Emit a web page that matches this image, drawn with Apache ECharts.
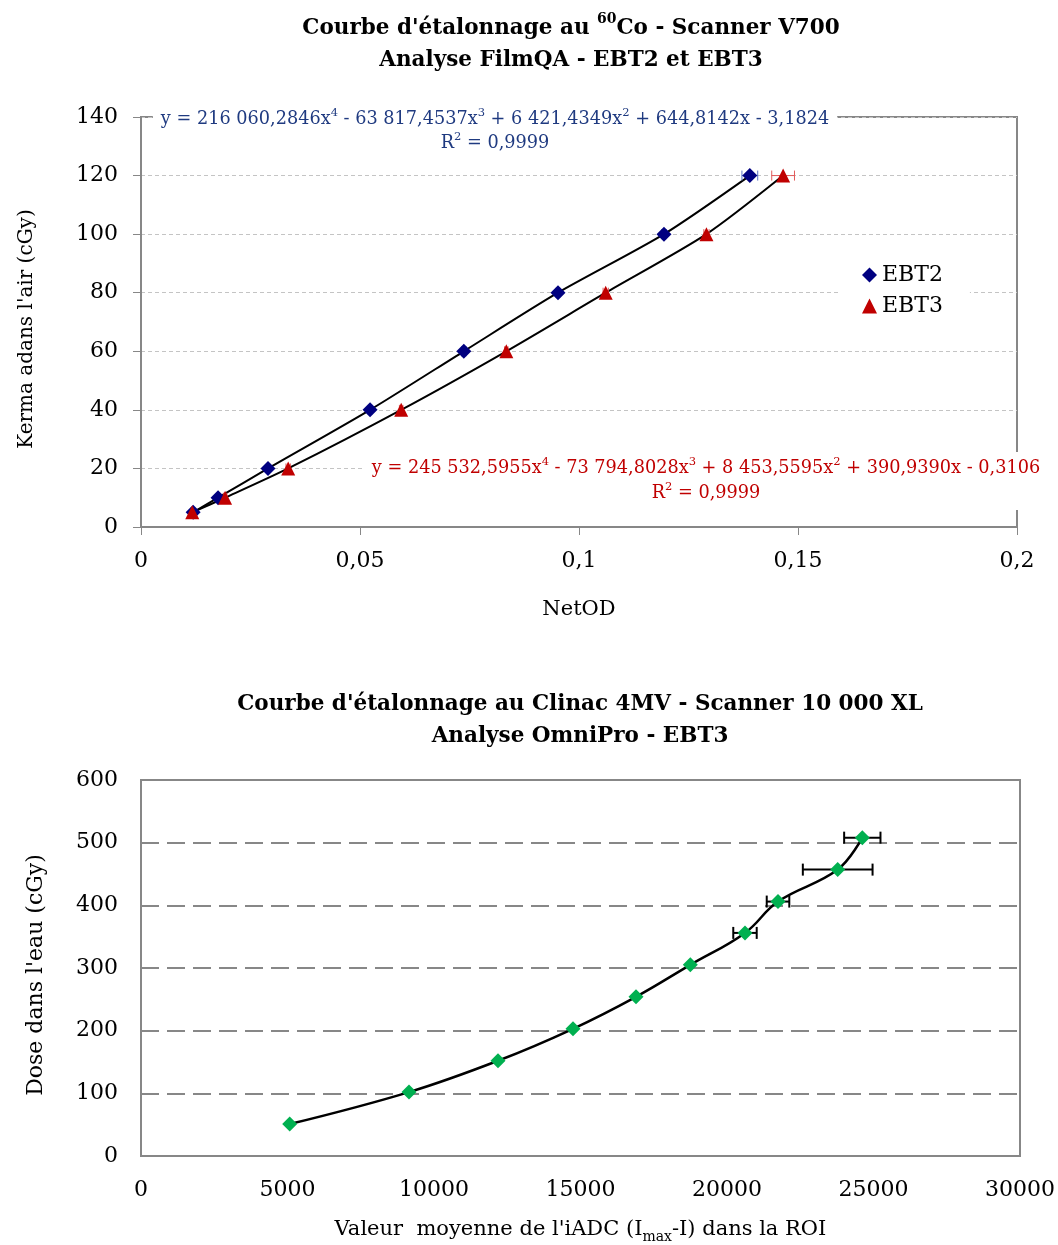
<!DOCTYPE html>
<html><head><meta charset="utf-8">
<script src="https://cdn.jsdelivr.net/npm/echarts@6/dist/echarts.min.js"></script>
<style>html,body{margin:0;padding:0;background:#fff}#c{width:1058px;height:1245px}</style>
</head><body><div id="c"></div>
<script>
const FONT = 'DejaVu Serif';

// ---------- Chart 1 : 60Co - Scanner V700 ----------
const netOD_EBT2 = [0.0119, 0.0176, 0.0290, 0.0523, 0.0737, 0.0952, 0.1194, 0.1390];
const kerma_EBT2 = [5, 10, 20, 40, 60, 80, 100, 120];
const errOD_EBT2 = [0.0003, 0.0003, 0.0003, 0.0004, 0.0005, 0.0004, 0.0005, 0.0018];
const netOD_EBT3 = [0.0117, 0.0192, 0.0336, 0.0594, 0.0834, 0.1061, 0.1291, 0.1466];
const kerma_EBT3 = [5, 10, 20, 40, 60, 80, 100, 120];
const errOD_EBT3 = [0.0003, 0.0004, 0.0005, 0.0004, 0.0004, 0.0006, 0.0006, 0.0026];
const xTicks1 = ['0', '0,05', '0,1', '0,15', '0,2'];
const yTicks1 = ['0', '20', '40', '60', '80', '100', '120', '140'];
const eqEBT2 = 'y = 216 060,2846x{s|4} - 63 817,4537x{s|3} + 6 421,4349x{s|2} + 644,8142x - 3,1824';
const r2EBT2 = 'R{s|2} = 0,9999';
const eqEBT3 = 'y = 245 532,5955x{s|4} - 73 794,8028x{s|3} + 8 453,5595x{s|2} + 390,9390x - 0,3106';
const r2EBT3 = 'R{s|2} = 0,9999';

// ---------- Chart 2 : Clinac 4MV - Scanner 10 000 XL ----------
const adcMean = [5075, 9147, 12184, 14744, 16894, 18747, 20614, 21741, 23778, 24618];
const doseWater = [51, 102, 152, 203, 254, 305, 356, 406, 457, 508];
const adcErr = [0, 0, 0, 0, 0, 0, 400, 385, 1190, 620];
const xTicks2 = ['0', '5000', '10000', '15000', '20000', '25000', '30000'];
const yTicks2 = ['0', '100', '200', '300', '400', '500', '600'];

const zip3 = (a, b, c) => a.map((v, i) => [v, b[i], c[i]]);
const zip2 = (a, b) => a.map((v, i) => [v, b[i]]);

function errRender(color, lw, cap) {
  return function (params, api) {
    const x = api.value(0), y = api.value(1), e = api.value(2);
    if (!e) return null;
    const p1 = api.coord([x - e, y]), p2 = api.coord([x + e, y]);
    const style = { stroke: color, lineWidth: lw, fill: null };
    return { type: 'group', children: [
      { type: 'line', shape: { x1: p1[0], y1: p1[1], x2: p2[0], y2: p2[1] }, style: style },
      { type: 'line', shape: { x1: p1[0], y1: p1[1] - cap, x2: p1[0], y2: p1[1] + cap }, style: style },
      { type: 'line', shape: { x1: p2[0], y1: p2[1] - cap, x2: p2[0], y2: p2[1] + cap }, style: style }
    ] };
  };
}

const AX = '#878787';
const tickStyle = { fontFamily: FONT, fontSize: 22, color: '#000' };
const supRich = { s: { fontFamily: FONT, fontSize: 11.5, lineHeight: 12, verticalAlign: 'top' } };

const chart = echarts.init(document.getElementById('c'), null, { renderer: 'canvas' });
chart.setOption({
  backgroundColor: '#fff',
  animation: false,
  title: [
    {
      text: 'Courbe d\'étalonnage au {sup|60}Co - Scanner V700\nAnalyse FilmQA - EBT2 et EBT3',
      left: 566, top: 7, textAlign: 'center',
      textStyle: { fontFamily: FONT, fontWeight: 'bold', fontSize: 21.5, lineHeight: 32, color: '#000',
        rich: { sup: { fontFamily: FONT, fontWeight: 'bold', fontSize: 14, lineHeight: 16, verticalAlign: 'top', color: '#000' } } }
    },
    {
      text: 'Courbe d\'étalonnage au Clinac 4MV - Scanner 10 000 XL\nAnalyse OmniPro - EBT3',
      left: 575, top: 683, textAlign: 'center',
      textStyle: { fontFamily: FONT, fontWeight: 'bold', fontSize: 21.5, lineHeight: 32, color: '#000' }
    }
  ],
  legend: {
    data: [{ name: 'EBT2', icon: 'diamond' }, { name: 'EBT3', icon: 'triangle' }],
    orient: 'vertical', left: 838, top: 258, padding: [6, 27, 6, 24],
    backgroundColor: '#fff', itemWidth: 15, itemHeight: 15, itemGap: 9,
    selectedMode: false,
    textStyle: { fontFamily: FONT, fontSize: 22, color: '#000' }
  },
  grid: [
    { left: 141, top: 117, width: 876, height: 410, show: true, borderColor: AX, borderWidth: 2, backgroundColor: 'transparent' },
    { left: 141, top: 780, width: 879, height: 376, show: true, borderColor: AX, borderWidth: 2, backgroundColor: 'transparent' }
  ],
  xAxis: [
    {
      gridIndex: 0, type: 'value', min: 0, max: 0.2, interval: 0.05,
      name: 'NetOD', nameLocation: 'middle', nameGap: 72,
      nameTextStyle: { fontFamily: FONT, fontSize: 21, color: '#000' },
      axisLine: { show: true, lineStyle: { color: AX, width: 2 } },
      axisTick: { show: true, inside: false, length: 8, lineStyle: { color: AX, width: 1 } },
      axisLabel: Object.assign({ margin: 23, formatter: (v, i) => xTicks1[i] }, tickStyle),
      splitLine: { show: false }
    },
    {
      gridIndex: 1, type: 'value', min: 0, max: 30000, interval: 5000,
      name: 'Valeur  moyenne de l\'iADC (I{sub|max}-I) dans la ROI', nameLocation: 'middle', nameGap: 60,
      nameTextStyle: { fontFamily: FONT, fontSize: 21, lineHeight: 28, color: '#000',
        rich: { sub: { fontFamily: FONT, fontSize: 14, lineHeight: 14, verticalAlign: 'bottom', color: '#000' } } },
      axisLine: { show: true, lineStyle: { color: AX, width: 2 } },
      axisTick: { show: false },
      axisLabel: Object.assign({ margin: 23, formatter: (v, i) => xTicks2[i] }, tickStyle),
      splitLine: { show: false }
    }
  ],
  yAxis: [
    {
      gridIndex: 0, type: 'value', min: 0, max: 140, interval: 20,
      name: 'Kerma adans l\'air (cGy)', nameLocation: 'middle', nameGap: 104,
      nameTextStyle: { fontFamily: FONT, fontSize: 20, color: '#000', padding: [0, 14, 0, 0] },
      axisLine: { show: true, lineStyle: { color: AX, width: 2 } },
      axisTick: { show: true, inside: false, length: 8, lineStyle: { color: AX, width: 1 } },
      axisLabel: Object.assign({ margin: 23, formatter: (v, i) => yTicks1[i] }, tickStyle),
      splitLine: { show: true, lineStyle: { color: '#c4c4c4', width: 1, type: [4, 3] } }
    },
    {
      gridIndex: 1, type: 'value', min: 0, max: 600, interval: 100,
      name: 'Dose dans l\'eau (cGy)', nameLocation: 'middle', nameGap: 94,
      nameTextStyle: { fontFamily: FONT, fontSize: 22, color: '#000', padding: [0, 14, 0, 0] },
      axisLine: { show: true, lineStyle: { color: AX, width: 2 } },
      axisTick: { show: false },
      axisLabel: Object.assign({ margin: 23, formatter: (v, i) => yTicks2[i] }, tickStyle),
      splitLine: { show: true, lineStyle: { color: AX, width: 2, type: [18, 8] } }
    }
  ],
  series: [
    { name: 'fitEBT2', type: 'line', xAxisIndex: 0, yAxisIndex: 0, data: zip2(netOD_EBT2, kerma_EBT2),
      smooth: 0.25, symbol: 'none', lineStyle: { color: '#000', width: 2 }, z: 2 },
    { name: 'fitEBT3', type: 'line', xAxisIndex: 0, yAxisIndex: 0, data: zip2(netOD_EBT3, kerma_EBT3),
      smooth: 0.25, symbol: 'none', lineStyle: { color: '#000', width: 2 }, z: 2 },
    { name: 'errEBT2', type: 'custom', xAxisIndex: 0, yAxisIndex: 0, data: zip3(netOD_EBT2, kerma_EBT2, errOD_EBT2),
      encode: { x: 0, y: 1 }, renderItem: errRender('#5b73c4', 1, 5), z: 3 },
    { name: 'errEBT3', type: 'custom', xAxisIndex: 0, yAxisIndex: 0, data: zip3(netOD_EBT3, kerma_EBT3, errOD_EBT3),
      encode: { x: 0, y: 1 }, renderItem: errRender('#e25b5b', 1, 5), z: 3 },
    { name: 'EBT2', type: 'scatter', xAxisIndex: 0, yAxisIndex: 0, data: zip2(netOD_EBT2, kerma_EBT2),
      symbol: 'diamond', symbolSize: 15, itemStyle: { color: '#000080', opacity: 1 }, z: 4 },
    { name: 'EBT3', type: 'scatter', xAxisIndex: 0, yAxisIndex: 0, data: zip2(netOD_EBT3, kerma_EBT3),
      symbol: 'triangle', symbolSize: 14, itemStyle: { color: '#C00000', opacity: 1 }, z: 4 },

    { name: 'curve2', type: 'line', xAxisIndex: 1, yAxisIndex: 1, data: zip2(adcMean, doseWater),
      smooth: 0.4, symbol: 'none', lineStyle: { color: '#000', width: 2.5 }, z: 2 },
    { name: 'err2', type: 'custom', xAxisIndex: 1, yAxisIndex: 1, data: zip3(adcMean, doseWater, adcErr),
      encode: { x: 0, y: 1 }, renderItem: errRender('#000', 2, 6), z: 3 },
    { name: 'EBT3 OmniPro', type: 'scatter', xAxisIndex: 1, yAxisIndex: 1, data: zip2(adcMean, doseWater),
      symbol: 'diamond', symbolSize: 15, itemStyle: { color: '#00B050', opacity: 1 }, z: 4 }
  ],
  graphic: [
    { type: 'text', x: 495, y: 131, z: 100,
      style: { text: eqEBT2 + '\n' + r2EBT2, align: 'center', verticalAlign: 'middle',
        fontFamily: FONT, fontSize: 17.7, lineHeight: 24, fill: '#1F3A80',
        backgroundColor: '#fff', padding: [2, 8, 2, 8], rich: supRich } },
    { type: 'text', x: 706, y: 481, z: 100,
      style: { text: eqEBT3 + '\n' + r2EBT3, align: 'center', verticalAlign: 'middle',
        fontFamily: FONT, fontSize: 17.7, lineHeight: 25, fill: '#C00000',
        backgroundColor: '#fff', padding: [4, 8, 4, 8], rich: supRich } }
  ]
});
</script>
</body></html>
